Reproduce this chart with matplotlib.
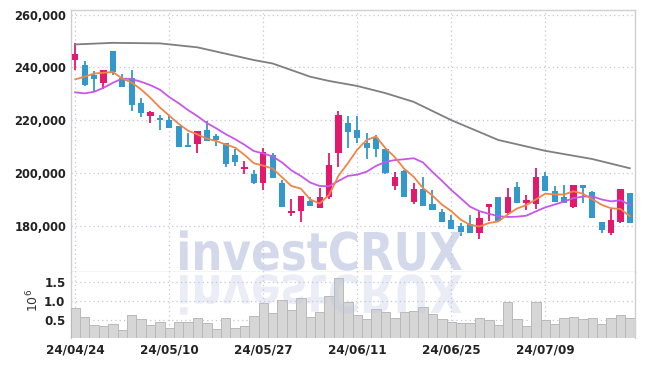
import matplotlib
matplotlib.use("Agg")
import matplotlib.pyplot as plt
from matplotlib.textpath import TextPath
from matplotlib.patches import PathPatch
from matplotlib.font_manager import FontProperties
from matplotlib.transforms import Affine2D, IdentityTransform
from matplotlib.ticker import FuncFormatter

# daily candles, prices in thousands
opens = [242.7, 240.9, 237.1, 234.2, 246.3, 236.2, 236.2, 226.6, 221.7, 221.0,
         220.1, 218.0, 210.5, 211.0, 216.3, 214.1, 211.5, 206.8, 201.7, 199.7,
         196.4, 206.9, 196.4, 185.1, 185.9, 189.7, 186.8, 191.2, 207.8, 218.9,
         216.3, 211.3, 213.4, 209.0, 195.2, 200.9, 189.3, 194.0, 188.3, 185.5,
         182.4, 180.1, 180.9, 177.6, 187.4, 190.9, 184.9, 194.7, 188.8, 188.5,
         199.0, 193.3, 190.9, 187.4, 195.6, 192.8, 181.5, 177.6, 181.7, 192.5]
highs = [249.4, 242.4, 238.6, 239.0, 246.3, 237.4, 239.0, 228.5, 223.6, 222.0,
         222.0, 218.0, 215.4, 216.0, 219.8, 214.7, 211.5, 209.1, 204.8, 201.2,
         209.6, 207.5, 197.5, 190.2, 191.4, 191.2, 194.3, 207.8, 223.6, 221.6,
         221.6, 215.3, 214.4, 209.0, 200.6, 201.2, 196.2, 198.7, 193.7, 186.4,
         184.3, 181.1, 184.3, 185.9, 188.4, 190.9, 194.3, 196.8, 191.8, 201.9,
         200.6, 195.2, 195.6, 195.6, 195.6, 193.4, 181.5, 186.4, 194.0, 192.5]
lows = [239.0, 233.0, 230.6, 231.8, 237.1, 232.7, 223.5, 221.4, 218.9, 216.3,
        217.0, 209.8, 209.8, 207.8, 212.3, 210.3, 202.5, 202.9, 199.7, 195.8,
        193.7, 198.3, 187.4, 183.9, 181.5, 187.5, 186.8, 190.2, 202.5, 209.4,
        211.3, 205.3, 206.0, 199.8, 193.7, 191.0, 188.4, 187.5, 186.1, 181.7,
        179.0, 176.3, 177.6, 175.1, 182.1, 182.1, 184.3, 188.9, 186.1, 186.5,
        193.4, 189.3, 188.9, 186.8, 188.7, 183.0, 177.6, 176.7, 181.4, 181.1]
closes = [245.2, 233.4, 235.6, 239.0, 238.3, 232.7, 225.8, 222.9, 223.0, 220.2,
          217.2, 210.0, 210.1, 216.0, 212.3, 212.6, 203.4, 204.1, 202.5, 196.2,
          208.1, 198.3, 187.4, 185.8, 191.4, 187.7, 190.9, 203.1, 222.0, 215.5,
          213.2, 209.4, 209.2, 200.2, 198.7, 191.2, 194.0, 187.8, 186.1, 181.7,
          179.0, 178.0, 177.6, 183.0, 188.4, 182.1, 190.9, 188.9, 189.9, 198.6,
          193.4, 189.3, 188.9, 195.6, 194.3, 183.0, 178.6, 182.4, 194.0, 181.1]

# moving averages as drawn
ma5 = [235.5, 236.5, 237.7, 238.0, 238.3, 235.8, 234.3, 231.7, 228.5, 224.9,
       221.8, 218.7, 216.1, 214.7, 213.1, 212.2, 210.9, 209.7, 207.0, 203.8,
       202.9, 201.8, 198.5, 195.2, 194.2, 190.1, 188.6, 191.8, 199.0, 203.8,
       208.9, 212.6, 213.9, 209.5, 206.1, 201.7, 198.7, 194.4, 191.6, 188.2,
       185.7, 182.5, 180.5, 179.9, 181.2, 181.8, 184.4, 186.7, 188.0, 190.1,
       192.3, 192.0, 192.0, 193.2, 192.3, 190.2, 188.1, 186.8, 186.5, 183.8]
ma10 = [230.6, 230.2, 230.8, 232.3, 234.2, 235.8, 235.6, 234.6, 233.3, 231.6,
        228.8, 226.5, 223.9, 221.6, 219.0, 217.0, 214.8, 212.9, 210.8, 208.4,
        207.5, 206.4, 204.1, 201.1, 199.0, 196.5, 195.2, 195.1, 197.1, 199.0,
        199.5, 200.6, 202.8, 204.3, 205.0, 205.3, 205.7, 204.1, 200.5, 197.2,
        193.7, 190.6, 187.4, 185.7, 184.7, 183.8, 183.5, 183.6, 184.0, 185.6,
        187.1, 188.2, 189.3, 190.6, 191.2, 191.3, 190.1, 189.4, 189.8, 188.1]
ma_long_idx = [0, 4, 9, 13, 19, 21, 25, 27, 30, 33, 36, 40, 45, 50, 55, 59]
ma_long = [248.7, 249.3, 249.1, 247.6, 242.8, 241.5, 236.5, 234.9, 233.0,
           230.3, 227.0, 220.1, 212.6, 208.5, 205.4, 201.9]

# volume in millions of shares
volume = [0.81, 0.57, 0.37, 0.34, 0.40, 0.24, 0.63, 0.52, 0.37, 0.44,
          0.28, 0.44, 0.44, 0.55, 0.42, 0.27, 0.55, 0.28, 0.34, 0.61,
          0.94, 0.68, 1.02, 0.76, 1.07, 0.57, 0.70, 1.13, 1.59, 0.97,
          0.63, 0.52, 0.78, 0.70, 0.55, 0.70, 0.74, 0.83, 0.66, 0.52,
          0.46, 0.41, 0.41, 0.55, 0.49, 0.36, 0.96, 0.52, 0.34, 0.96,
          0.49, 0.40, 0.55, 0.57, 0.52, 0.55, 0.39, 0.55, 0.62, 0.55]

tick_idx = [0, 10, 20, 30, 40, 50]
tick_labels = ['24/04/24', '24/05/10', '24/05/27', '24/06/11', '24/06/25', '24/07/09']
price_ticks = [180000, 200000, 220000, 240000, 260000]
vol_ticks = [0.5, 1.0, 1.5]

UP = '#e3196c'
DOWN = '#3399cc'
GRID = '#c3c7d9'
LBL = dict(family='DejaVu Sans', stretch='condensed', weight='bold', size=9.5)
YLBL = dict(family='DejaVu Sans', stretch='condensed', weight='bold', size=9.2)

fig = plt.figure(figsize=(6.45, 3.66), dpi=100)
ax = fig.add_axes([71/645, 1-272/366, 564/645, 262.5/366])
axv = fig.add_axes([71/645, 1-338/366, 564/645, 66/366], sharex=ax)

n = len(closes)
xs = list(range(n))
o = [v*1000 for v in opens]
h = [v*1000 for v in highs]
l = [v*1000 for v in lows]
c = [v*1000 for v in closes]
cols = [UP if c[i] >= o[i] else DOWN for i in xs]

ax.vlines(xs, l, h, colors=cols, linewidth=1.3, zorder=3)
bottoms = [min(o[i], c[i]) for i in xs]
heights = [max(abs(c[i]-o[i]), 500) for i in xs]
ax.bar(xs, heights, bottom=bottoms, width=0.66, color=cols, zorder=4, linewidth=0)

ax.plot(ma_long_idx, [v*1000 for v in ma_long], color='#7f7f7f', lw=1.3, zorder=5)
ax.plot(xs, [v*1000 for v in ma10], color='#c757ea', lw=1.3, zorder=5)
ax.plot(xs, [v*1000 for v in ma5], color='#ef8547', lw=1.3, zorder=6)

ax.set_xlim(-0.45, 59.55)
ax.set_ylim(162700, 261900)
ax.set_yticks(price_ticks)
ax.yaxis.set_major_formatter(FuncFormatter(lambda v, p: f'{int(v):,}'))
ax.set_xticks(tick_idx)
ax.tick_params(axis='x', labelbottom=False, length=0)
ax.tick_params(axis='y', length=0, pad=3.5, colors='#222222')
for t in ax.get_yticklabels():
    t.set_fontproperties(FontProperties(**YLBL))
ax.grid(True, linestyle=(0, (1, 2.5)), color=GRID, linewidth=0.9)
ax.set_axisbelow(True)

axv.bar(xs, volume, width=1.0, color='#d6d6d6', edgecolor='#b9b9b9', linewidth=0.7, zorder=3)
axv.set_ylim(0.03, 1.755)
axv.set_yticks(vol_ticks)
axv.set_yticklabels(['0.5', '1.0', '1.5'])
axv.set_xticks(tick_idx)
axv.set_xticklabels(tick_labels)
axv.tick_params(length=0, colors='#222222')
axv.tick_params(axis='y', pad=4)
axv.tick_params(axis='x', pad=4)
for t in axv.get_yticklabels() + axv.get_xticklabels():
    t.set_fontproperties(FontProperties(**LBL))
axv.grid(True, linestyle=(0, (1, 2.5)), color=GRID, linewidth=0.9)
axv.set_axisbelow(True)

for a in (ax, axv):
    for s in a.spines.values():
        s.set_color('#cfcfcf')
        s.set_linewidth(1.0)
axv.spines['bottom'].set_visible(False)
axv.spines['top'].set_visible(False)

fig.text(33/645, 1-300/366, '$10^6$', rotation=90, ha='center', va='center',
         fontsize=9, color='#333333')

# watermark with its reflection
fp = FontProperties(family='DejaVu Sans', weight='bold')
tp = TextPath((0, 0), 'investCRUX', size=100, prop=fp)
bb = tp.get_extents()
cap = TextPath((0, 0), 'X', size=100, prop=fp).get_extents().height
sx = 282 / bb.width
sy = 38 / cap
base = 366 - 270
t_main = Affine2D().translate(-bb.x0, 0).scale(sx, sy).translate(180, base)
t_refl = Affine2D().translate(-bb.x0, 0).scale(sx, -sy).translate(180, base - 5)
fig.patches.append(PathPatch(t_main.transform_path(tp), facecolor='#bcc5e0', alpha=0.65,
                             edgecolor='none', transform=IdentityTransform(), figure=fig))
fig.patches.append(PathPatch(t_refl.transform_path(tp), facecolor='#bcc5e0', alpha=0.3,
                             edgecolor='none', transform=IdentityTransform(), figure=fig))

fig.savefig('out.png', dpi=100)
